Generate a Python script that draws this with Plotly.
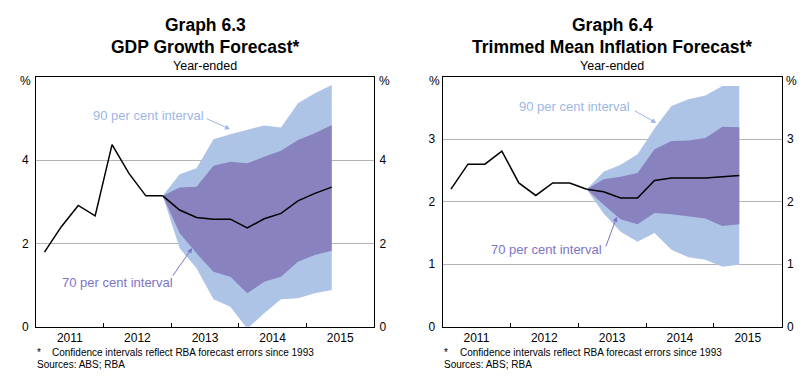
import plotly.graph_objects as go

# ---------------- data ----------------
gdp_hist_q = ["2011Q1", "2011Q2", "2011Q3", "2011Q4", "2012Q1", "2012Q2", "2012Q3", "2012Q4"]
gdp_hist = [1.79, 2.40, 2.91, 2.66, 4.37, 3.68, 3.14, 3.14]
gdp_fc_q = ["2012Q4", "2013Q1", "2013Q2", "2013Q3", "2013Q4", "2014Q1", "2014Q2",
            "2014Q3", "2014Q4", "2015Q1", "2015Q2"]
gdp_central = [3.14, 2.80, 2.62, 2.58, 2.58, 2.37, 2.59, 2.72, 3.02, 3.20, 3.35]
gdp_90_upper = [3.14, 3.66, 3.80, 4.50, 4.62, 4.72, 4.83, 4.78, 5.36, 5.60, 5.80]
gdp_90_lower = [3.14, 1.88, 1.40, 0.66, 0.48, -0.05, 0.32, 0.66, 0.68, 0.80, 0.88]
gdp_70_upper = [3.14, 3.34, 3.36, 3.86, 3.96, 3.92, 4.08, 4.22, 4.48, 4.64, 4.84]
gdp_70_lower = [3.14, 2.24, 1.76, 1.32, 1.20, 0.80, 1.08, 1.20, 1.56, 1.72, 1.82]

inf_hist_q = ["2011Q1", "2011Q2", "2011Q3", "2011Q4", "2012Q1", "2012Q2", "2012Q3",
              "2012Q4", "2013Q1"]
inf_hist = [2.20, 2.60, 2.60, 2.81, 2.30, 2.10, 2.30, 2.30, 2.20]
inf_fc_q = ["2013Q1", "2013Q2", "2013Q3", "2013Q4", "2014Q1", "2014Q2", "2014Q3",
            "2014Q4", "2015Q1", "2015Q2"]
inf_central = [2.20, 2.16, 2.06, 2.06, 2.34, 2.38, 2.38, 2.38, 2.40, 2.42]
inf_90_upper = [2.20, 2.48, 2.59, 2.76, 3.17, 3.53, 3.64, 3.70, 3.85, 3.85]
inf_90_lower = [2.20, 1.81, 1.52, 1.36, 1.50, 1.23, 1.11, 1.07, 0.96, 0.99]
inf_70_upper = [2.20, 2.36, 2.40, 2.46, 2.84, 2.97, 2.98, 3.02, 3.20, 3.19]
inf_70_lower = [2.20, 1.95, 1.72, 1.64, 1.82, 1.80, 1.77, 1.73, 1.61, 1.64]

years = [2011, 2012, 2013, 2014, 2015]
gdp_yticks = [0, 2, 4]
inf_yticks = [0, 1, 2, 3]

# ---------------- styling ----------------
W, H = 811, 385
FONT = "Liberation Sans, Arial, sans-serif"
C90 = "#aec4e7"
C70 = "#8882be"
T90 = "#9db6e4"
T70 = "#7d74c2"


def qpos(q):
    y, n = q.split("Q")
    return int(y) + (int(n) - 1) * 0.25 + 0.125


def band(xq, up, lo, color, xa, ya):
    xs = [qpos(q) for q in xq]
    return go.Scatter(x=xs + xs[::-1], y=up + lo[::-1], fill="toself", fillcolor=color,
                      line=dict(width=0), mode="lines", hoverinfo="skip",
                      showlegend=False, xaxis=xa, yaxis=ya)


def line(xq, vals, xa, ya):
    return go.Scatter(x=[qpos(q) for q in xq], y=vals, mode="lines",
                      line=dict(color="black", width=1.5), showlegend=False,
                      xaxis=xa, yaxis=ya)


fig = go.Figure()
fig.add_trace(band(gdp_fc_q, gdp_90_upper, gdp_90_lower, C90, "x", "y"))
fig.add_trace(band(gdp_fc_q, gdp_70_upper, gdp_70_lower, C70, "x", "y"))
fig.add_trace(line(gdp_hist_q, gdp_hist, "x", "y"))
fig.add_trace(line(gdp_fc_q, gdp_central, "x", "y"))

fig.add_trace(band(inf_fc_q, inf_90_upper, inf_90_lower, C90, "x2", "y2"))
fig.add_trace(band(inf_fc_q, inf_70_upper, inf_70_lower, C70, "x2", "y2"))
fig.add_trace(line(inf_hist_q, inf_hist, "x2", "y2"))
fig.add_trace(line(inf_fc_q, inf_central, "x2", "y2"))

# invisible traces so the right-hand axes are drawn
fig.add_trace(go.Scatter(x=[2011], y=[0], mode="markers", marker=dict(opacity=0),
                         showlegend=False, hoverinfo="skip", xaxis="x", yaxis="y3"))
fig.add_trace(go.Scatter(x=[2011], y=[0], mode="markers", marker=dict(opacity=0),
                         showlegend=False, hoverinfo="skip", xaxis="x2", yaxis="y4"))

ydom = [1 - 326.7 / H, 1 - 76.7 / H]
xdom1 = [36 / W, 374 / W]
xdom2 = [442.5 / W, 781.7 / W]

tickfont = dict(family=FONT, size=12, color="black")


def xaxis_cfg(dom, anchor):
    return dict(domain=dom, anchor=anchor, range=[2011, 2016], automargin=False,
                tickmode="array", tickvals=[y + 0.5 for y in years],
                ticktext=[str(y) for y in years], ticks="", tickfont=tickfont,
                showline=True, linecolor="black", linewidth=1, mirror=True,
                showgrid=False, zeroline=False, fixedrange=True,
                minor=dict(tickmode="array", tickvals=years[1:], ticks="inside",
                           ticklen=4, tickcolor="black", tickwidth=1, showgrid=False))


def yaxis_cfg(anchor, rng, tv, side="left", overlay=None, grid=True):
    d = dict(anchor=anchor, range=rng, tickmode="array", tickvals=tv, automargin=False,
             ticks="", tickfont=tickfont, side=side,
             ticklabelstandoff=4 if side == "left" else 2,
             showline=True, linecolor="black", linewidth=1, mirror=True,
             showgrid=grid, gridcolor="#b4b4b4", gridwidth=1, zeroline=False,
             fixedrange=True)
    if overlay:
        d["overlaying"] = overlay
    else:
        d["domain"] = ydom
    return d


fig.update_layout(
    width=W, height=H, autosize=False,
    margin=dict(l=0, r=0, t=0, b=0, pad=0),
    paper_bgcolor="white", plot_bgcolor="white",
    font=dict(family=FONT, color="black"),
    xaxis=xaxis_cfg(xdom1, "y"),
    xaxis2=xaxis_cfg(xdom2, "y2"),
    yaxis=yaxis_cfg("x", [0, 6], gdp_yticks),
    yaxis2=yaxis_cfg("x2", [0, 4], inf_yticks),
    yaxis3=yaxis_cfg("x", [0, 6], gdp_yticks, side="right", overlay="y", grid=False),
    yaxis4=yaxis_cfg("x2", [0, 4], inf_yticks, side="right", overlay="y2", grid=False),
)


def paper_text(px, py, text, size, bold=False, xanchor="center", color="black"):
    if bold:
        text = "<b>" + text + "</b>"
    fig.add_annotation(x=px / W, y=1 - py / H, xref="paper", yref="paper", text=text,
                       showarrow=False, xanchor=xanchor, yanchor="middle",
                       font=dict(family=FONT, size=size, color=color))


# titles
for cx, t1, t2 in [(205, "Graph 6.3", "GDP Growth Forecast*"),
                   (612, "Graph 6.4", "Trimmed Mean Inflation Forecast*")]:
    paper_text(cx, 25, t1, 17.5, bold=True)
    paper_text(cx, 47, t2, 17.5, bold=True)
    paper_text(cx, 66, "Year-ended", 12.5)

# % unit labels
for px in [25, 384, 434, 791]:
    paper_text(px, 81, "%", 12)

# footnotes
for x0, x1 in [(35, 50), (441.7, 458)]:
    paper_text(x0, 352, "*", 10, xanchor="left")
    paper_text(x1, 352, "Confidence intervals reflect RBA forecast errors since 1993", 10,
               xanchor="left")
    paper_text(x0, 364, "Sources: ABS; RBA", 10, xanchor="left")


def label(xa, ya, x, y, text, color):
    fig.add_annotation(x=x, y=y, xref=xa, yref=ya, text=text, showarrow=False,
                       xanchor="center", yanchor="middle",
                       font=dict(family=FONT, size=13, color=color))


def arrow(xa, ya, x0, y0, x1, y1, color):
    fig.add_annotation(x=x1, y=y1, ax=x0, ay=y0, xref=xa, yref=ya, axref=xa, ayref=ya,
                       text="", showarrow=True, arrowhead=2, arrowsize=1,
                       arrowwidth=1, arrowcolor=color)


label("x", "y", 2012.66, 5.08, "90 per cent interval", T90)
arrow("x", "y", 2013.50, 5.01, 2013.87, 4.74, T90)
label("x", "y", 2012.20, 1.07, "70 per cent interval", T70)
arrow("x", "y", 2013.01, 1.19, 2013.31, 1.89, T70)

label("x2", "y2", 2012.95, 3.53, "90 per cent interval", T90)
arrow("x2", "y2", 2013.81, 3.47, 2014.15, 3.26, T90)
label("x2", "y2", 2012.53, 1.23, "70 per cent interval", T70)
arrow("x2", "y2", 2013.40, 1.26, 2013.57, 1.76, T70)

fig.write_html(
    "out.html",
    config={"displayModeBar": False, "staticPlot": True},
    post_script="document.body.style.margin='0';document.body.style.overflow='hidden';",
)
